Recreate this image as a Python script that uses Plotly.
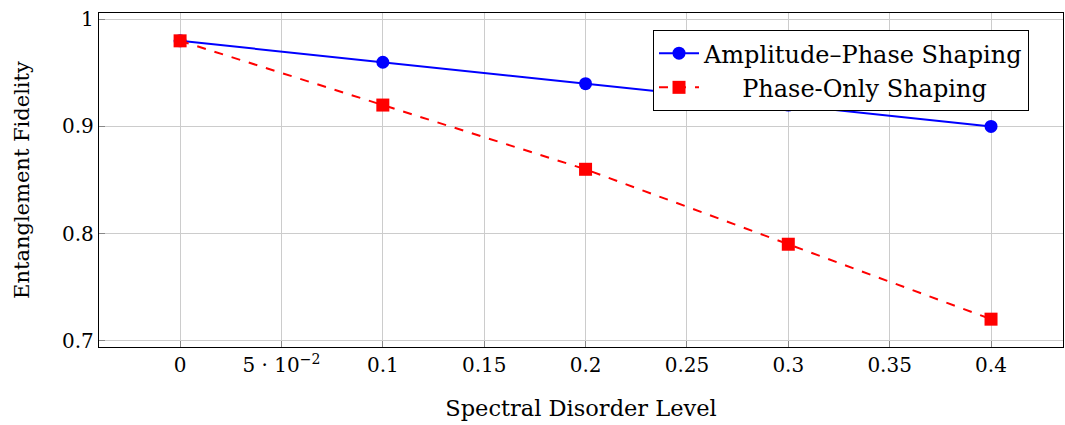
import plotly.graph_objects as go

disorder = [0, 0.1, 0.2, 0.3, 0.4]
amp_phase = [0.98, 0.96, 0.94, 0.92, 0.90]
phase_only = [0.98, 0.92, 0.86, 0.79, 0.72]

x_tickvals = [0, 0.05, 0.1, 0.15, 0.2, 0.25, 0.3, 0.35, 0.4]
x_ticktext = ["0", "5 · 10<sup>−2</sup>", "0.1", "0.15", "0.2", "0.25", "0.3", "0.35", "0.4"]
y_tickvals = [0.7, 0.8, 0.9, 1.0]
y_ticktext = ["0.7", "0.8", "0.9", "1"]

FONT = "DejaVu Serif"

fig = go.Figure()
fig.add_trace(go.Scatter(
    x=disorder, y=amp_phase, mode="lines+markers",
    name="Amplitude–Phase Shaping",
    line=dict(color="#0000ff", width=2),
    marker=dict(symbol="circle", size=13, color="#0000ff"),
))
fig.add_trace(go.Scatter(
    x=disorder, y=phase_only, mode="lines+markers",
    name="\u00a0" * 5 + "Phase-Only Shaping",
    line=dict(color="#ff0000", width=2, dash="dash"),
    marker=dict(symbol="square", size=13, color="#ff0000"),
))

axis_common = dict(
    showgrid=True, gridcolor="#cccccc", gridwidth=1,
    showline=True, linecolor="black", linewidth=1.3, mirror=True,
    ticks="inside", ticklen=6, tickcolor="#888888",
    zeroline=False, automargin=False,
    tickfont=dict(family=FONT, size=20, color="black"),
)

fig.update_xaxes(
    range=[-0.04, 0.4355], tickmode="array", tickvals=x_tickvals, ticktext=x_ticktext,
    title=dict(text="Spectral Disorder Level", font=dict(family=FONT, size=22.5, color="black"), standoff=24),
    **axis_common,
)
fig.update_yaxes(
    range=[0.694, 1.006], tickmode="array", tickvals=y_tickvals, ticktext=y_ticktext,
    title=dict(text="Entanglement Fidelity", font=dict(family=FONT, size=21, color="black"), standoff=26),
    **axis_common,
)

fig.update_layout(
    width=1065, height=425,
    margin=dict(l=99, r=2, t=13, b=78),
    plot_bgcolor="white", paper_bgcolor="white",
    font=dict(family=FONT, color="black"),
    showlegend=True,
    legend=dict(
        x=0.5747, y=0.949, xanchor="left", yanchor="top",
        bgcolor="white", bordercolor="black", borderwidth=1,
        font=dict(family=FONT, size=24, color="black"),
        tracegroupgap=0, itemwidth=40,
    ),
)

fig.write_html(
    "out.html",
    config={"displayModeBar": False},
    post_script="document.body.style.margin='0';document.body.style.overflow='hidden';",
)
